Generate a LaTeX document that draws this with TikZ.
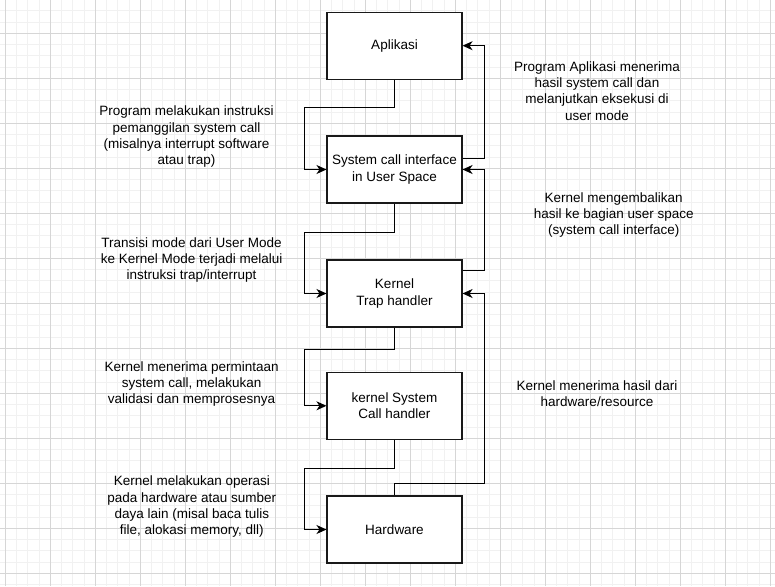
\documentclass[tikz,border=0pt]{standalone}
\usepackage{fontspec}
\setmainfont{Liberation Sans}
\usetikzlibrary{arrows.meta}
\definecolor{gridminor}{HTML}{F1F1F1}
\definecolor{gridmajor}{HTML}{D6D6D6}
\begin{document}
\begin{tikzpicture}[x=1pt,y=-1pt,
  box/.style={draw=black!90, fill=white, line width=1.1pt, minimum width=135pt, minimum height=67pt, align=center, inner sep=2pt, font=\fontsize{13.5}{16.2}\selectfont},
  lbl/.style={align=center, inner sep=0pt, font=\fontsize{13.5}{16.2}\selectfont},
  conn/.style={draw=black, line width=1.1pt, -{Stealth[length=10pt,width=9pt,inset=3pt]}}]
\fill[white] (0,0) rectangle (775,586);
\useasboundingbox (0,0) rectangle (775,586);
\foreach \i in {0,...,68} \draw[gridminor, line width=0.9pt] ({5.3+11.25*\i},0) -- ++(0,586);
\foreach \j in {0,...,51} \draw[gridminor, line width=0.9pt] (0,{10.8+11.25*\j}) -- ++(775,0);
\foreach \i in {0,...,17} \draw[gridmajor, line width=0.9pt] ({5.3+45*\i},0) -- ++(0,586);
\foreach \j in {1,...,13} \draw[gridmajor, line width=0.9pt] (0,{-11.7+45*\j}) -- ++(775,0);

\node[box] (app) at (394.5,45.7) {Aplikasi};
\node[box] (sys) at (394.5,169.5) {System call interface\\in User Space};
\node[box] (trap) at (394.5,293.5) {Kernel\\Trap handler};
\node[box] (hand) at (394.5,405.8) {kernel System\\Call handler};
\node[box] (hw) at (394.5,529.5) {Hardware};

% downward path (left side)
\draw[conn] (app.south) -- ++(0,28) -| ([xshift=-22pt]sys.west) -- (sys.west);
\draw[conn] (sys.south) -- ++(0,28.5) -| ([xshift=-22pt]trap.west) -- (trap.west);
\draw[conn] (trap.south) -- ++(0,22.3) -| ([xshift=-22pt]hand.west) -- (hand.west);
\draw[conn] (hand.south) -- ++(0,28.4) -| ([xshift=-22pt]hw.west) -- (hw.west);

% return path (right side)
\draw[conn] ([yshift=11.2pt]sys.east) -| ([xshift=22pt]app.east) -- (app.east);
\draw[conn] ([yshift=22.8pt]trap.east) -| ([xshift=22pt]sys.east) -- (sys.east);
\draw[conn] (hw.north) -- ++(0,-11.7) -| ([xshift=22pt]trap.east) -- (trap.east);

% labels
\node[lbl] (l1) at (186.5,136.8) {Program melakukan instruksi\\pemanggilan system call\\(misalnya interrupt software\\atau trap)};
\node[lbl] (l2) at (191.6,260.2) {Transisi mode dari User Mode\\ke Kernel Mode terjadi melalui\\instruksi trap/interrupt};
\node[lbl] (l3) at (191.6,383.8) {Kernel menerima permintaan\\system call, melakukan\\validasi dan memprosesnya};
\node[lbl] (l4) at (191.8,506.8) {Kernel melakukan operasi\\pada hardware atau sumber\\daya lain (misal baca tulis\\file, alokasi memory, dll)};
\node[lbl] (l5) at (597,91) {Program Aplikasi menerima\\hasil system call dan\\melanjutkan eksekusi di\\user mode};
\node[lbl] (l6) at (613.7,214.8) {Kernel mengembalikan\\hasil ke bagian user space\\(system call interface)};
\node[lbl] (l7) at (597,394) {Kernel menerima hasil dari\\hardware/resource};
\end{tikzpicture}
\end{document}
